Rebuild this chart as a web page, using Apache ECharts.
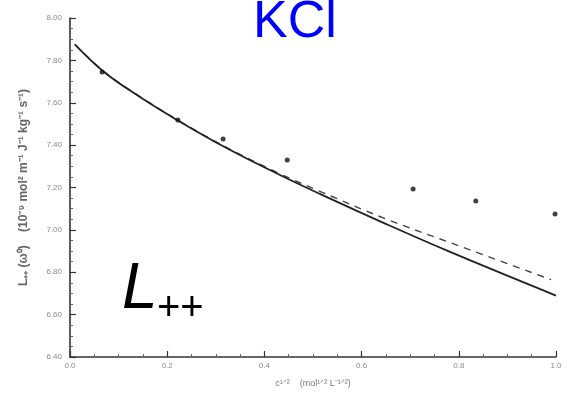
<!DOCTYPE html>
<html>
<head>
<meta charset="utf-8">
<script src="https://cdn.jsdelivr.net/npm/echarts@6/dist/echarts.min.js"></script>
<style>
  html, body { margin: 0; padding: 0; background: #fff; }
  #wrap { position: relative; width: 567px; height: 394px; }
  #plot, #labels { position: absolute; left: 0; top: 0; width: 567px; height: 394px; }
  #plot { filter: blur(0.7px); }
</style>
</head>
<body>
<div id="wrap">
  <div id="plot"></div>
  <div id="labels"></div>
</div>
<script>
// Axis ticks
const xTicks = [0.0, 0.2, 0.4, 0.6, 0.8, 1.0];
const yTicks = [6.4, 6.6, 6.8, 7.0, 7.2, 7.4, 7.6, 7.8, 8.0];

// Measured values: [c^(1/2), L++]
const measured = [
  [0.066, 7.745], [0.222, 7.519], [0.315, 7.429], [0.447, 7.330],
  [0.706, 7.193], [0.835, 7.136], [0.998, 7.075]
];

// Model curve (solid)
const modelSolid = [
  [0.010, 7.875], [0.070, 7.745], [0.144, 7.627], [0.220, 7.519],
  [0.323, 7.385], [0.432, 7.259], [0.514, 7.170], [0.652, 7.026],
  [0.782, 6.896], [1.000, 6.690]
];

// Model curve (dashed)
const modelDashed = [
  [0.010, 7.875], [0.070, 7.747], [0.144, 7.629], [0.220, 7.521],
  [0.323, 7.388], [0.432, 7.265], [0.514, 7.182], [0.652, 7.050],
  [0.782, 6.940], [0.990, 6.765]
];

const tickColor = '#8a8a8a';

const plot = echarts.init(document.getElementById('plot'), null, { renderer: 'canvas' });
plot.setOption({
  animation: false,
  grid: { left: 70, right: 11, top: 18, bottom: 37 },
  xAxis: {
    type: 'value', min: xTicks[0], max: xTicks[xTicks.length - 1], interval: 0.2,
    name: 'c¹ᐟ²    (mol¹ᐟ² L⁻¹ᐟ²)',
    nameLocation: 'middle', nameGap: 22,
    nameTextStyle: { color: '#777', fontSize: 9, fontFamily: 'Liberation Sans' },
    axisLine: { lineStyle: { color: '#333', width: 1.6 } },
    axisTick: { inside: true, length: 6, lineStyle: { color: '#333', width: 1.2 } },
    minorTick: { show: true, splitNumber: 4, length: 3, lineStyle: { color: '#666' } },
    splitLine: { show: false },
    axisLabel: {
      color: tickColor, fontSize: 8, margin: 5, fontFamily: 'Liberation Sans',
      formatter: v => v.toFixed(1)
    }
  },
  yAxis: {
    type: 'value', min: yTicks[0], max: yTicks[yTicks.length - 1], interval: 0.2,
    name: 'L₊₊ (ω⁰)    (10⁻⁹ mol² m⁻¹ J⁻¹ kg⁻¹ s⁻¹)',
    nameLocation: 'middle', nameGap: 40, nameRotate: 90,
    nameTextStyle: { color: '#666', fontSize: 12, fontWeight: 'bold', fontFamily: 'Liberation Sans' },
    axisLine: { show: true, lineStyle: { color: '#333', width: 1.6 } },
    axisTick: { inside: true, length: 6, lineStyle: { color: '#333', width: 1.2 } },
    minorTick: { show: true, splitNumber: 4, length: 3, lineStyle: { color: '#666' } },
    splitLine: { show: false },
    axisLabel: {
      color: tickColor, fontSize: 8, margin: 8, fontFamily: 'Liberation Sans',
      formatter: v => v.toFixed(2)
    }
  },
  series: [
    {
      type: 'line', data: modelSolid, smooth: 0.4, showSymbol: false,
      lineStyle: { color: '#222', width: 1.8 }, z: 3
    },
    {
      type: 'line', data: modelDashed, smooth: 0.4, showSymbol: false,
      lineStyle: { color: '#444', width: 1.4, type: [7, 6] }, z: 2
    },
    {
      type: 'scatter', data: measured, symbol: 'circle', symbolSize: 5,
      itemStyle: { color: '#111' }, z: 4
    }
  ]
});

// Crisp overlay text: salt name and coefficient label
const labels = echarts.init(document.getElementById('labels'), null, { renderer: 'canvas' });
labels.setOption({
  animation: false,
  graphic: [
    {
      type: 'text', left: 253, top: -3,
      style: { text: 'KCl', fill: '#0000ff', font: '52px "Liberation Sans"' }
    },
    {
      type: 'text', left: 122, top: 258,
      style: { text: 'L', fill: '#000', font: 'italic 64px "Liberation Sans"' }
    },
    {
      type: 'text', left: 157, top: 289,
      style: { text: '++', fill: '#000', font: '40px "Liberation Sans"' }
    }
  ]
});
</script>
</body>
</html>
